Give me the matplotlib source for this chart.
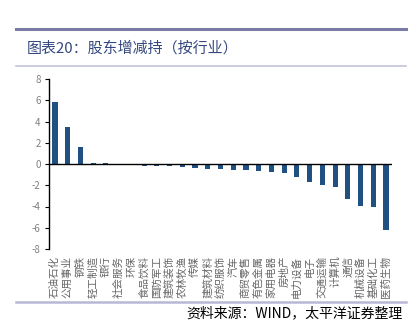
import matplotlib
matplotlib.use("Agg")
import matplotlib.pyplot as plt
from matplotlib.lines import Line2D
import numpy as np

plt.rcParams['font.family'] = ['Noto Sans CJK SC', 'DejaVu Sans']

# data
industries = ['石油石化', '公用事业', '钢铁', '轻工制造', '银行', '社会服务', '环保',
              '食品饮料', '国防军工', '建筑装饰', '农林牧渔', '传媒', '建筑材料',
              '纺织服饰', '汽车', '商贸零售', '有色金属', '家用电器', '房地产',
              '电力设备', '电子', '交通运输', '计算机', '通信', '机械设备',
              '基础化工', '医药生物']
net_change = [5.8, 3.45, 1.6, 0.05, 0.05, -0.05, -0.05,
              -0.2, -0.2, -0.2, -0.3, -0.35, -0.45,
              -0.45, -0.6, -0.6, -0.7, -0.75, -0.85,
              -1.25, -1.72, -2.0, -2.2, -3.28, -3.97,
              -4.0, -6.22]
y_ticks = [-8, -6, -4, -2, 0, 2, 4, 6, 8]

W, H = 419, 331
fig = plt.figure(figsize=(W / 100, H / 100), dpi=100)

# header / footer decoration
fig.add_artist(Line2D([16 / W, 406 / W], [1 - 28.5 / H] * 2, color='#7B7BA8', linewidth=2.2))
fig.add_artist(Line2D([16 / W, 406 / W], [1 - 65.5 / H] * 2, color='#C4C4DC', linewidth=1.2))
fig.add_artist(Line2D([16 / W, 406 / W], [1 - 302 / H] * 2, color='#B8B8D6', linewidth=1.8))
fig.text(27 / W, 1 - 48 / H, '图表20：股东增减持（按行业）', fontsize=10.8,
         color='#34487F', ha='left', va='center')
fig.text(403 / W, 1 - 313 / H, '资料来源：WIND，太平洋证券整理', fontsize=10,
         color='black', ha='right', va='center', style='italic')

ax = fig.add_axes([49 / W, 1 - 249 / H, 343 / W, 170 / H])
x = np.arange(len(industries))
ax.bar(x, net_change, width=0.4, color='#215082')

ax.set_xlim(-0.47, len(industries) - 0.53)
ax.set_ylim(-8, 8)
ax.set_yticks(y_ticks)
ax.set_yticklabels([str(v) for v in y_ticks], fontsize=7, color='#808080')
ax.tick_params(axis='y', direction='out', length=3, width=0.8, color='black', pad=3)
ax.set_xticks([])

for s in ['top', 'right', 'bottom']:
    ax.spines[s].set_visible(False)
ax.spines['left'].set_linewidth(1.0)
ax.axhline(0, color='black', linewidth=1.0, zorder=3)

# rotated category labels hanging below the axes
for i, name in enumerate(industries):
    ax.annotate(name, xy=(i, -8), xycoords='data', xytext=(0, -5),
                textcoords='offset points', rotation=90, ha='right', va='center',
                rotation_mode='anchor', fontsize=7.6, color='#666666',
                annotation_clip=False)

fig.savefig('out.png', dpi=100)
